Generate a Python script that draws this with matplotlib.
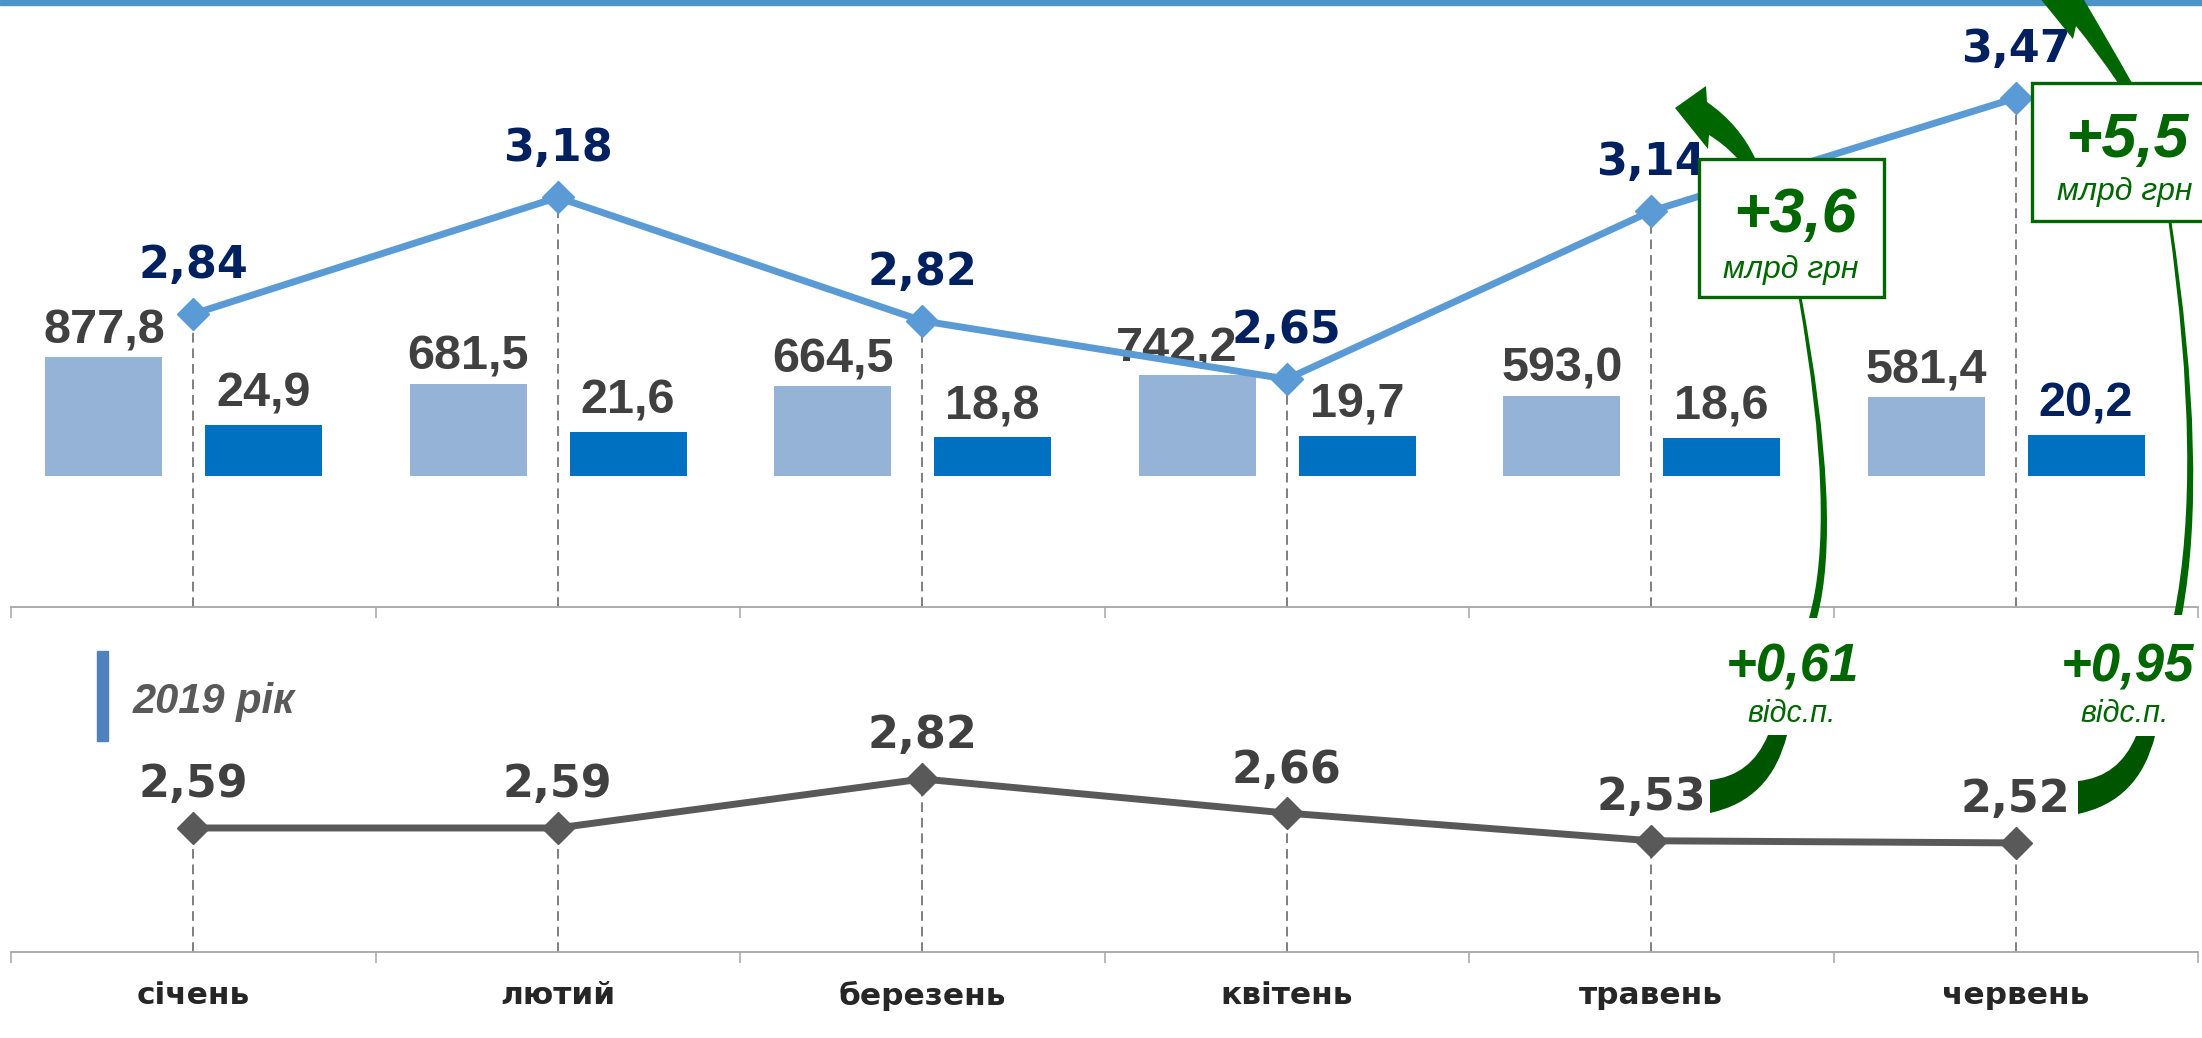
import matplotlib
matplotlib.use('Agg')
import matplotlib.pyplot as plt
import matplotlib.transforms as mtransforms
from matplotlib.patches import Rectangle, PathPatch
from matplotlib.path import Path

months = ['січень', 'лютий', 'березень', 'квітень', 'травень', 'червень']
bars_light = [877.8, 681.5, 664.5, 742.2, 593.0, 581.4]
bars_dark = [24.9, 21.6, 18.8, 19.7, 18.6, 20.2]
rate_2020 = [2.84, 3.18, 2.82, 2.65, 3.14, 3.47]
rate_2019 = [2.59, 2.59, 2.82, 2.66, 2.53, 2.52]


def fmt(v, d):
    return f'{v:.{d}f}'.replace('.', ',')


W, H = 2202, 1038
fig = plt.figure(figsize=(W / 100, H / 100), dpi=100)
# pixel coords, origin top-left (for the hand-placed decorations)
px = mtransforms.Affine2D().scale(1 / W, -1 / H).translate(0, 1) + fig.transFigure

x = list(range(6))
L, R = 11 / W, 2187 / W
top_pos = [L, 1 - 607 / H, R, 607 / H]
low_pos = [L, 1 - 952 / H, R, 342 / H]

GREY = '#a6a6a6'
DASH = (0, (5, 3))


def clean(ax, axis_line=True):
    for s in ['top', 'left', 'right']:
        ax.spines[s].set_visible(False)
    ax.spines['bottom'].set_visible(axis_line)
    ax.spines['bottom'].set_color(GREY)
    ax.spines['bottom'].set_linewidth(1.3)
    ax.set_xlim(-0.5, 5.5)
    ax.set_yticks([])
    ax.patch.set_alpha(0)
    if axis_line:
        ax.set_xticks([i - 0.5 for i in range(7)])
        ax.tick_params(axis='x', which='major', length=8, width=1.1,
                       color=GREY, labelbottom=False)
    else:
        ax.set_xticks([])


# ---- upper panel: bars ----
ax_l = fig.add_axes(top_pos, zorder=1)
ax_d = fig.add_axes(top_pos, zorder=1)
ax_t = fig.add_axes(top_pos, zorder=2)
clean(ax_l, False)
clean(ax_d, False)
clean(ax_t, True)

ax_l.set_ylim(-967, 3513)
ax_d.set_ylim(-63.9, 232.2)
ax_t.set_ylim(1.985, 3.756)

xl = [i - 0.245 for i in x]
xd = [i + 0.193 for i in x]
ax_l.bar(xl, bars_light, width=0.321, color='#95b3d7')
ax_d.bar(xd, bars_dark, width=0.321, color='#0070c0')

for k, (xi, v) in enumerate(zip(xl, bars_light)):
    # the April label sits a bit to the left, clear of the 2,65 label
    ax_l.annotate(fmt(v, 1), (xi, v), xytext=(-15 if k == 3 else 0, 10),
                  textcoords='offset points',
                  ha='center', va='baseline', fontsize=35, fontweight='bold',
                  family='Liberation Sans', color='#404040')
for k, (xi, v) in enumerate(zip(xd, bars_dark)):
    ax_d.annotate(fmt(v, 1), (xi, v), xytext=(0, 13), textcoords='offset points',
                  ha='center', va='baseline', fontsize=35, fontweight='bold',
                  family='Liberation Sans',
                  color='#002060' if k == 5 else '#404040')

# ---- upper panel: 2020 line ----
for xi, v in zip(x, rate_2020):
    ax_t.plot([xi, xi], [1.985, v], color='#7f7f7f', lw=1.4, ls=DASH, zorder=1)
ax_t.plot(x, rate_2020, color='#5b9bd5', lw=5, marker='D', ms=16,
          mfc='#5b9bd5', mec='#5b9bd5', zorder=3)
for xi, v in zip(x, rate_2020):
    ax_t.annotate(fmt(v, 2), (xi, v), xytext=(0, 26), textcoords='offset points',
                  ha='center', va='baseline', fontsize=32, fontweight='bold',
                  color='#002060', zorder=4)

# ---- lower panel: 2019 line ----
ax_b = fig.add_axes(low_pos, zorder=2)
clean(ax_b, True)
ax_b.set_ylim(2.008, 3.613)
for xi, v in zip(x, rate_2019):
    ax_b.plot([xi, xi], [2.008, v], color='#7f7f7f', lw=1.4, ls=DASH, zorder=1)
ax_b.plot(x, rate_2019, color='#595959', lw=5, marker='D', ms=16,
          mfc='#595959', mec='#595959', zorder=3)
for xi, v in zip(x, rate_2019):
    ax_b.annotate(fmt(v, 2), (xi, v), xytext=(0, 22), textcoords='offset points',
                  ha='center', va='baseline', fontsize=32, fontweight='bold',
                  color='#404040', zorder=4)

ax_b.set_xticks(x, minor=True)
ax_b.set_xticklabels(months, minor=True, fontsize=22.5, fontweight='bold',
                     color='#262626')
ax_b.tick_params(axis='x', which='minor', length=0, pad=21)

# ---- decorations ----
fig.add_artist(Rectangle((0, 0), W, 5, transform=px, color='#4a94c9', zorder=5))
fig.add_artist(Rectangle((97, 651), 11, 90, transform=px, color='#4f81bd', zorder=5))
fig.text(133, 713, '2019 рік', transform=px, fontsize=30, fontweight='bold',
         style='italic', family='Liberation Sans', color='#595959', va='baseline')


def green_shape(parts, color):
    verts, codes = [], []
    for k, p in enumerate(parts):
        if isinstance(p[0], tuple):
            verts += [p[0], p[1]]
            codes += [Path.CURVE3, Path.CURVE3]
        else:
            verts.append(p)
            codes.append(Path.MOVETO if k == 0 else Path.LINETO)
    verts.append(verts[0])
    codes.append(Path.CLOSEPOLY)
    fig.add_artist(PathPatch(Path(verts, codes), transform=px, facecolor=color,
                             edgecolor='none', zorder=5))


G1, G2 = '#006600', '#005500'
# arrows leaving the boxes upwards
green_shape([(1755, 158), ((1739, 124), (1707, 102)), (1706, 86), (1675, 108),
             (1708, 149), (1709, 135), ((1724, 144), (1737, 158))], G1)
green_shape([(2132, 83), ((2108, 40), (2071, -22)), (2070, -43), (2030, -14),
             (2073, 39), (2076, 26), ((2097, 52), (2118, 83))], G1)
# thin tails under the boxes
green_shape([(1798.5, 297), ((1837, 520), (1809, 618)), (1817, 618),
             ((1843, 520), (1801.5, 297))], G1)
green_shape([(2168.5, 222), ((2203, 470), (2174, 615)), (2182, 615),
             ((2209, 470), (2171.5, 222))], G1)
# wedges in the lower panel
for dx, dy in [(0, 0), (368, 1)]:
    green_shape([(1768 + dx, 735 + dy), (1787 + dx, 735 + dy),
                 ((1771 + dx, 800 + dy), (1710 + dx, 813 + dy)),
                 (1710 + dx, 780 + dy),
                 ((1751 + dx, 776 + dy), (1768 + dx, 735 + dy))], G2)

# boxes with the increase in money terms
for bx, by, bw, bh in [(1699, 159, 185, 138), (2032, 83, 200, 138)]:
    fig.add_artist(Rectangle((bx, by), bw, bh, transform=px, facecolor='white',
                             edgecolor=G1, lw=2.4, zorder=5))

big = dict(transform=px, ha='center', va='baseline', fontweight='bold',
           style='italic', family='Liberation Sans', color=G1, zorder=6)
small = dict(transform=px, ha='center', va='baseline', style='italic',
             family='Liberation Sans', color=G1, zorder=6)
fig.text(1795, 232, '+3,6', fontsize=45, **big)
fig.text(1791, 278, 'млрд грн', fontsize=23, **small)
fig.text(2127, 157, '+5,5', fontsize=45, **big)
fig.text(2125, 200, 'млрд грн', fontsize=23, **small)
fig.text(1793, 682, '+0,61', fontsize=38, **big)
fig.text(1792, 722, 'відс.п.', fontsize=22, **small)
fig.text(2128, 682, '+0,95', fontsize=38, **big)
fig.text(2125, 722, 'відс.п.', fontsize=22, **small)

fig.savefig('out.png', dpi=100, facecolor='white')
